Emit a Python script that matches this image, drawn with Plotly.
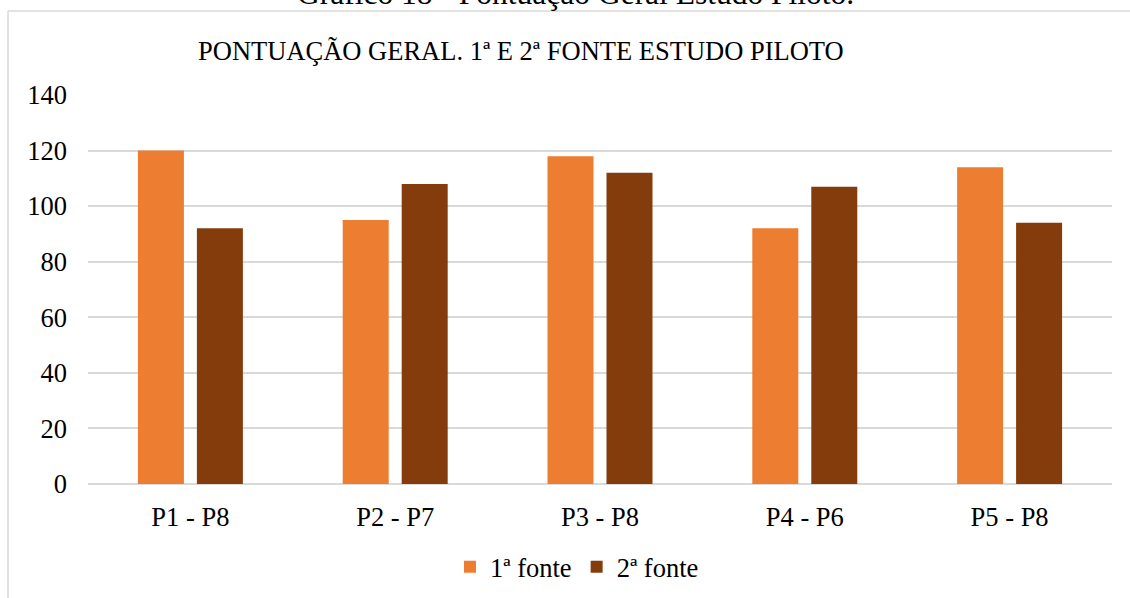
import plotly.graph_objects as go

# Pontuação geral por par de participantes, 1ª e 2ª fonte
categorias = ["P1 - P8", "P2 - P7", "P3 - P8", "P4 - P6", "P5 - P8"]
fonte_1 = [120, 95, 118, 92, 114]
fonte_2 = [92, 108, 112, 107, 94]
ticks_y = [0, 20, 40, 60, 80, 100, 120, 140]

SERIF = "Liberation Serif, Times New Roman, serif"
GRID = "#D9D9D9"
FS = 26.5

fig = go.Figure()
fig.add_trace(go.Bar(name="1ª fonte", x=categorias, y=fonte_1,
                     marker=dict(color="#ED7D31", line=dict(width=0))))
fig.add_trace(go.Bar(name="2ª fonte", x=categorias, y=fonte_2,
                     marker=dict(color="#843C0C", line=dict(width=0))))

# plot area: x 88..1112 px, y 95..484 px
L, R, T, B = 88, 18, 95, 114
W, H = 1130 - L - R, 598 - T - B

def px_x(p):
    return (p - L) / W

def px_y(p):
    return (598 - B - p) / H

fig.update_layout(
    width=1130, height=598,
    margin=dict(l=L, r=R, t=T, b=B, autoexpand=False),
    paper_bgcolor="white", plot_bgcolor="white",
    barmode="group", bargap=0.424, bargroupgap=0.22,
    font=dict(family=SERIF, size=FS, color="#000000"),
    showlegend=True,
    legend=dict(orientation="h", x=px_x(577), xanchor="center",
                y=px_y(567), yanchor="middle",
                font=dict(family=SERIF, size=FS),
                itemwidth=30, traceorder="normal"),
    xaxis=dict(showgrid=False, showline=False, ticks="",
               ticklabelstandoff=14, automargin=False,
               tickfont=dict(family=SERIF, size=FS)),
    yaxis=dict(range=[0, 140], tickvals=ticks_y, showgrid=True,
               gridcolor=GRID, gridwidth=1.5, zeroline=True,
               zerolinecolor=GRID, zerolinewidth=1.5, showline=False,
               ticks="", ticklabelstandoff=20, automargin=False,
               tickfont=dict(family=SERIF, size=FS)),
    annotations=[
        dict(text="PONTUAÇÃO GERAL. 1ª E 2ª FONTE ESTUDO PILOTO",
             xref="paper", yref="paper", x=px_x(196), y=px_y(51),
             xanchor="left", yanchor="middle", showarrow=False,
             font=dict(family=SERIF, size=FS)),
        dict(text="Gráfico 18 - Pontuação Geral Estudo Piloto.",
             xref="paper", yref="paper", x=px_x(575), y=px_y(-7),
             xanchor="center", yanchor="middle", showarrow=False,
             font=dict(family=SERIF, size=31.5)),
    ],
    shapes=[
        dict(type="line", xref="paper", yref="paper",
             x0=px_x(8), x1=px_x(8), y0=px_y(11), y1=px_y(610),
             line=dict(color=GRID, width=1.5)),
        dict(type="line", xref="paper", yref="paper",
             x0=px_x(8), x1=px_x(1140), y0=px_y(11), y1=px_y(11),
             line=dict(color=GRID, width=1.5)),
    ],
)

fig.write_html("out.html")
